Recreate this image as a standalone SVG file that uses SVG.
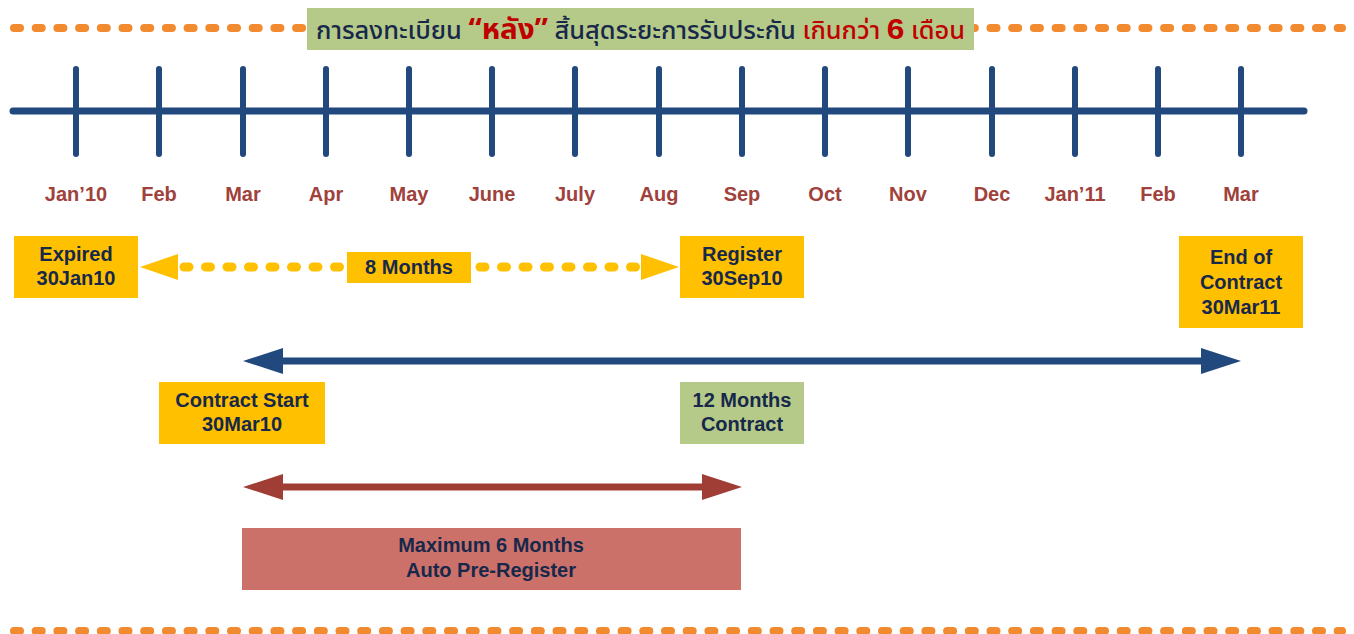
<svg xmlns="http://www.w3.org/2000/svg" width="1354" height="634" viewBox="0 0 1354 634">
<style>
.dot{fill:none;stroke:#F28A30;stroke-width:8;stroke-linecap:round;stroke-dasharray:6 15.7}
.axis{stroke:#21497E;stroke-width:7;stroke-linecap:round}
.tick{stroke:#21497E;stroke-width:6;stroke-linecap:round}
.mon{font-family:"Liberation Sans",Arial,sans-serif;font-weight:bold;font-size:20px;fill:#A0413B;text-anchor:middle}
.bx{font-family:"Liberation Sans",Arial,sans-serif;font-weight:bold;font-size:20px;fill:#17284A;text-anchor:middle}
.yel{fill:#FFC000}
.grn{fill:#B5CA88}
.th{font-family:"Noto Sans Thai","Noto Sans","Liberation Sans","DejaVu Sans",sans-serif;font-size:24px;font-weight:500;fill:#17284A}
.red{fill:#C00000}
</style>
<rect width="1354" height="634" fill="#FFFFFF"/>
<g id="borders">
<line class="dot" x1="14" y1="28" x2="1342" y2="28"/>
<line class="dot" x1="14" y1="631" x2="1342" y2="631"/>
</g>
<g id="title">
<rect x="307" y="8" width="667" height="42" class="grn"/>
<text class="th" x="316" y="39" textLength="649" lengthAdjust="spacingAndGlyphs"><tspan>การลงทะเบียน </tspan><tspan class="red" font-size="28" font-weight="bold">“หลัง”</tspan><tspan> สิ้นสุดระยะการรับประกัน </tspan><tspan class="red">เกินกว่า </tspan><tspan class="red" font-size="30" font-weight="bold" font-family="Liberation Sans,Arial,sans-serif">6</tspan><tspan class="red"> เดือน</tspan></text>
</g>
<g id="timeline">
<line class="axis" x1="13" y1="111" x2="1304" y2="111"/>
<g>
<line class="tick" x1="76" y1="69" x2="76" y2="154"/>
<line class="tick" x1="159" y1="69" x2="159" y2="154"/>
<line class="tick" x1="243" y1="69" x2="243" y2="154"/>
<line class="tick" x1="326" y1="69" x2="326" y2="154"/>
<line class="tick" x1="409" y1="69" x2="409" y2="154"/>
<line class="tick" x1="492" y1="69" x2="492" y2="154"/>
<line class="tick" x1="575" y1="69" x2="575" y2="154"/>
<line class="tick" x1="659" y1="69" x2="659" y2="154"/>
<line class="tick" x1="742" y1="69" x2="742" y2="154"/>
<line class="tick" x1="825" y1="69" x2="825" y2="154"/>
<line class="tick" x1="908" y1="69" x2="908" y2="154"/>
<line class="tick" x1="992" y1="69" x2="992" y2="154"/>
<line class="tick" x1="1075" y1="69" x2="1075" y2="154"/>
<line class="tick" x1="1158" y1="69" x2="1158" y2="154"/>
<line class="tick" x1="1241" y1="69" x2="1241" y2="154"/>
</g>
<g>
<text class="mon" x="76" y="201">Jan’10</text>
<text class="mon" x="159" y="201">Feb</text>
<text class="mon" x="243" y="201">Mar</text>
<text class="mon" x="326" y="201">Apr</text>
<text class="mon" x="409" y="201">May</text>
<text class="mon" x="492" y="201">June</text>
<text class="mon" x="575" y="201">July</text>
<text class="mon" x="659" y="201">Aug</text>
<text class="mon" x="742" y="201">Sep</text>
<text class="mon" x="825" y="201">Oct</text>
<text class="mon" x="908" y="201">Nov</text>
<text class="mon" x="992" y="201">Dec</text>
<text class="mon" x="1075" y="201">Jan’11</text>
<text class="mon" x="1158" y="201">Feb</text>
<text class="mon" x="1241" y="201">Mar</text>
</g>
</g>
<g id="connectors">
<polygon points="140,267 178,254 178,280" fill="#FFC000"/>
<polygon points="679,267 641,254 641,280" fill="#FFC000"/>
<line x1="184" y1="267" x2="340" y2="267" stroke="#FFC000" stroke-width="9" stroke-linecap="round" stroke-dasharray="5 16.5"/>
<line x1="480" y1="267" x2="636" y2="267" stroke="#FFC000" stroke-width="9" stroke-linecap="round" stroke-dasharray="5 16.5"/>
<line x1="280" y1="361" x2="1205" y2="361" stroke="#21497E" stroke-width="7"/>
<polygon points="243,361 283,348 283,374" fill="#21497E"/>
<polygon points="1241,361 1201,348 1201,374" fill="#21497E"/>
<line x1="280" y1="487" x2="705" y2="487" stroke="#A03E36" stroke-width="7"/>
<polygon points="243,487 283,474 283,500" fill="#A03E36"/>
<polygon points="742,487 702,474 702,500" fill="#A03E36"/>
</g>
<g id="expired">
<rect x="14" y="236" width="124" height="62" class="yel"/>
<text class="bx" x="76" y="261">Expired</text>
<text class="bx" x="76" y="285">30Jan10</text>
</g>
<g id="eight-months">
<rect x="347" y="252" width="124" height="31" class="yel"/>
<text class="bx" x="409" y="274">8 Months</text>
</g>
<g id="register">
<rect x="680" y="236" width="124" height="62" class="yel"/>
<text class="bx" x="742" y="261">Register</text>
<text class="bx" x="742" y="285">30Sep10</text>
</g>
<g id="end-of-contract">
<rect x="1179" y="236" width="124" height="92" class="yel"/>
<text class="bx" x="1241" y="264">End of</text>
<text class="bx" x="1241" y="289">Contract</text>
<text class="bx" x="1241" y="314">30Mar11</text>
</g>
<g id="contract-start">
<rect x="159" y="382" width="166" height="62" class="yel"/>
<text class="bx" x="242" y="407">Contract Start</text>
<text class="bx" x="242" y="431">30Mar10</text>
</g>
<g id="twelve-months">
<rect x="680" y="382" width="124" height="62" class="grn"/>
<text class="bx" x="742" y="407">12 Months</text>
<text class="bx" x="742" y="431">Contract</text>
</g>
<g id="auto-pre-register">
<rect x="242" y="528" width="499" height="62" fill="#CC716A"/>
<text class="bx" x="491" y="552">Maximum 6 Months</text>
<text class="bx" x="491" y="577">Auto Pre-Register</text>
</g>
</svg>
